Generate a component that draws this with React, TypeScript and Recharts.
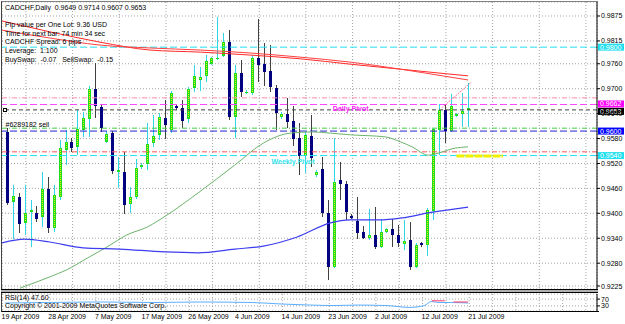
import React from 'react'
import {
  ComposedChart,
  Bar,
  Line,
  XAxis,
  YAxis,
  CartesianGrid,
  ReferenceLine,
  ReferenceDot,
} from 'recharts'

// CADCHF daily bars, 80 sessions (last one still open)
const OPEN = [
  0.9596, 0.9428, 0.9439, 0.9377, 0.9403, 0.9401, 0.9391, 0.9459, 0.9365, 0.9439,
  0.9552, 0.9572, 0.956, 0.96, 0.9627, 0.9699, 0.9656, 0.9572, 0.9593, 0.9499,
  0.9499, 0.9422, 0.9439, 0.9511, 0.9519, 0.9569, 0.9589, 0.9629, 0.96, 0.9658,
  0.9654, 0.9627, 0.9702, 0.9721, 0.9731, 0.9759, 0.9772, 0.9779, 0.9812, 0.9632,
  0.9738, 0.969, 0.969, 0.9774, 0.9759, 0.9743, 0.9702, 0.9632, 0.9639, 0.9622,
  0.9581, 0.9538, 0.9586, 0.9492, 0.9507, 0.9401, 0.9271, 0.948, 0.9471, 0.9394,
  0.9381, 0.9355, 0.9341, 0.9348, 0.9319, 0.9355, 0.9362, 0.9348, 0.9326, 0.9336,
  0.9271, 0.9329, 0.9324, 0.9406, 0.96, 0.9649, 0.9598, 0.9634, 0.9639, 0.9649,
]
const HIGH = [
  0.9605, 0.9468, 0.9449, 0.9468, 0.9432, 0.9418, 0.95, 0.9487, 0.9468, 0.9576,
  0.96, 0.9581, 0.9649, 0.9644, 0.9706, 0.9762, 0.9663, 0.9598, 0.9598, 0.9535,
  0.9548, 0.9463, 0.9531, 0.9521, 0.9617, 0.9637, 0.9642, 0.9673, 0.9695, 0.9661,
  0.9673, 0.9704, 0.9757, 0.9752, 0.9781, 0.9776, 0.9873, 0.9834, 0.9841, 0.9757,
  0.9769, 0.9697, 0.9781, 0.9868, 0.981, 0.9805, 0.9709, 0.9644, 0.9678, 0.9658,
  0.9617, 0.9596, 0.9637, 0.9504, 0.9535, 0.9432, 0.9581, 0.9524, 0.9478, 0.9398,
  0.9439, 0.9369, 0.941, 0.9415, 0.9386, 0.9365, 0.9386, 0.9372, 0.9384, 0.9379,
  0.9329, 0.9331, 0.9413, 0.9605, 0.9663, 0.9661, 0.9687, 0.9642, 0.969, 0.9714,
]
const LOW = [
  0.942, 0.9338, 0.9353, 0.9348, 0.9319, 0.9379, 0.9367, 0.9353, 0.9355, 0.9432,
  0.9516, 0.9548, 0.954, 0.9584, 0.9584, 0.9629, 0.9596, 0.9569, 0.9495, 0.9461,
  0.9398, 0.9401, 0.9434, 0.9507, 0.9504, 0.956, 0.9576, 0.9579, 0.9593, 0.9649,
  0.9605, 0.9617, 0.9692, 0.9694, 0.9716, 0.9757, 0.9769, 0.9776, 0.9625, 0.9581,
  0.968, 0.9687, 0.9685, 0.9716, 0.9706, 0.9692, 0.96, 0.9627, 0.9605, 0.9562,
  0.9492, 0.9497, 0.9512, 0.9487, 0.9391, 0.9239, 0.9268, 0.9432, 0.9384, 0.9386,
  0.9338, 0.9338, 0.9336, 0.9314, 0.9317, 0.9353, 0.9319, 0.9319, 0.9312, 0.9264,
  0.9268, 0.9319, 0.9297, 0.9384, 0.954, 0.9569, 0.9596, 0.9632, 0.9608, 0.9607,
]
const CLOSE = [
  0.9425, 0.9442, 0.9375, 0.9401, 0.9408, 0.9386, 0.9459, 0.9365, 0.9444, 0.9557,
  0.9572, 0.9557, 0.9603, 0.9629, 0.9699, 0.9658, 0.9605, 0.9591, 0.9502, 0.9504,
  0.942, 0.9439, 0.9509, 0.9516, 0.9567, 0.9586, 0.9632, 0.9613, 0.969, 0.9654,
  0.9622, 0.9699, 0.9731, 0.9728, 0.9767, 0.9774, 0.9774, 0.9812, 0.9632, 0.9738,
  0.9692, 0.9692, 0.9774, 0.9757, 0.974, 0.9704, 0.9642, 0.9639, 0.962, 0.9579,
  0.9538, 0.9589, 0.9533, 0.9499, 0.9401, 0.9271, 0.9475, 0.9471, 0.9403, 0.9389,
  0.9353, 0.9341, 0.9348, 0.9319, 0.9355, 0.9362, 0.9348, 0.9329, 0.9333, 0.9271,
  0.9324, 0.9324, 0.9408, 0.9603, 0.9649, 0.9598, 0.9658, 0.9639, 0.9646, 0.9653,
]

// moving averages, read as [bar index, price]
const MA_RED_A = [
  [-0.9, 0.9863], [7.3, 0.9837], [15.9, 0.9812], [24.5, 0.9793], [33.1, 0.9788], [41.6, 0.9781],
  [50.2, 0.9772], [58.8, 0.9759], [67.4, 0.9747], [75.9, 0.9735], [79, 0.9731],
]
const MA_RED_B = [
  [-0.9, 0.9841], [7.3, 0.9822], [15.9, 0.9805], [24.5, 0.9798], [33.1, 0.9793], [41.6, 0.9786],
  [50.2, 0.9776], [58.8, 0.9764], [67.4, 0.9747], [75.9, 0.9728], [79, 0.9721],
]
const MA_GREEN = [
  [2.2, 0.922], [7.3, 0.9247], [10.2, 0.9264], [13.7, 0.9292], [17.1, 0.9319], [20.5, 0.9348],
  [24, 0.9367], [27.4, 0.9396], [32.7, 0.9449], [39, 0.9516], [43.9, 0.9569], [48.5, 0.9593],
  [52.4, 0.9596], [55.4, 0.9593], [58.8, 0.9589], [64.8, 0.9584], [67.4, 0.9572], [69.4, 0.956],
  [72.2, 0.954], [73.9, 0.9545], [76.8, 0.9557], [79, 0.956],
]
const MA_BLUE = [
  [-0.9, 0.9329], [3, 0.9338], [7.3, 0.9331], [13, 0.9317], [19.3, 0.9314], [27, 0.9307],
  [32.7, 0.9305], [39, 0.9314], [43.9, 0.9321], [49.7, 0.9343], [55.4, 0.9377], [58.8, 0.9384],
  [63.6, 0.9384], [67.7, 0.9389], [72.2, 0.9401], [79, 0.9415],
]

// oscillator in the lower window
const RSI_LINE = [
  [-0.4, 47], [7, 50], [16, 53], [25, 50], [33, 53], [42, 50], [47, 41], [52, 35], [56, 32],
  [60, 35], [65, 32], [69, 21], [71.5, 32], [72.7, 56], [74, 50], [76, 50], [79, 47],
]
const RSI_HOT = [
  [72.8, 60], [75, 60], [75.7, null], [76.5, 53], [79, 53],
]

// horizontal levels (price)
const LEVELS = [0.98, 0.9678, 0.9662, 0.9649, 0.9605, 0.9598, 0.9548, 0.9539]
const WEEKLY_MARK = [77, 85, 0.9538]
const TREND = [74.5, 0.9654, 79.6, 0.9716]

const PRICE_TICKS = [0.9875, 0.9815, 0.976, 0.97, 0.964, 0.958, 0.952, 0.946, 0.94, 0.934, 0.928, 0.9225]
const RSI_TICKS = [30, 70]
const GRID_IDX = Array.from({ length: 26 }, (_, k) => -0.8 + 4 * k)
const DATE_LABELS = [
  '19 Apr 2009', '28 Apr 2009', '7 May 2009', '17 May 2009', '26 May 2009', '4 Jun 2009',
  '14 Jun 2009', '23 Jun 2009', '2 Jul 2009', '12 Jul 2009', '21 Jul 2009',
]

const X_DOMAIN: [number, number] = [-0.9, 101.1]
const Y_DOMAIN: [number, number] = [0.92178, 0.99087]
const FONT = '"Liberation Sans", Arial, sans-serif'
const PRE = { whiteSpace: 'pre' as const }

const Candle = (props: any) => {
  const { x, y, width, height, payload } = props
  const { o, h, l, c } = payload
  const mid = Math.round(x + width / 2)
  const py = (p: number) => y + ((h - p) / (h - l)) * height
  const up = c >= o
  const top = Math.round(py(Math.max(o, c)))
  const bot = Math.max(Math.round(py(Math.min(o, c))), top + 1)
  return (
    <g>
      <line x1={mid + 0.5} x2={mid + 0.5} y1={Math.round(py(h))} y2={Math.round(py(l))}
        stroke={up ? '#2fd6e6' : '#404040'} strokeWidth={1} />
      {up ? (
        <g>
          <rect x={mid - 1} y={top} width={3} height={bot - top} fill="#1fdc1f" />
          {bot - top > 2 && (
            <line x1={mid + 0.5} x2={mid + 0.5} y1={top + 1} y2={bot - 1}
              stroke="#f4f400" strokeDasharray="1 1" />
          )}
        </g>
      ) : (
        <rect x={mid - 1} y={top} width={3} height={bot - top} fill="#000080" />
      )}
    </g>
  )
}

const PriceTick = (props: any) => {
  const { x, y, payload } = props
  return (
    <text x={x} y={y + 2.5} fontSize={7} fill="#000" fontFamily={FONT}>
      {payload.value.toFixed(4)}
    </text>
  )
}

const RsiTick = (props: any) => {
  const { x, y, payload } = props
  return (
    <text x={x} y={y + 2.5} fontSize={7} fill="#000" fontFamily={FONT}>
      {payload.value}
    </text>
  )
}

const DateTick = (props: any) => {
  const { x, y, payload } = props
  const k = Math.round((payload.value + 0.8) / 4)
  if (k % 2 !== 0) return null
  return (
    <text x={x - 1} y={y + 6} fontSize={7} fill="#000" fontFamily={FONT}>
      {DATE_LABELS[k / 2]}
    </text>
  )
}

const PriceTag = (props: any) => {
  const { viewBox, bg, txt, shift = 0 } = props
  const right = viewBox.x + viewBox.width
  return (
    <g>
      <rect x={right + 1} y={viewBox.y - 3.5 + shift} width={26} height={7} fill={bg} />
      <text x={right + 3} y={viewBox.y + 2.5 + shift} fontSize={7} fill="#fff" fontFamily={FONT}>
        {txt}
      </text>
    </g>
  )
}

const TextTag = (props: any) => {
  const { viewBox, txt, col, bold } = props
  return (
    <text x={viewBox.x} y={viewBox.y + 3} fontSize={7} fill={col} fontWeight={bold ? 'bold' : 'normal'}
      fontFamily={FONT}>
      {txt}
    </text>
  )
}

const OrderMark = (props: any) => {
  const { cx, cy } = props
  return <rect x={Math.round(cx) - 1.5} y={Math.round(cy) - 1.5} width={3} height={3} fill="#fff" stroke="#000" />
}

const toPts = (arr: (number | null)[][]) => arr.map(([i, v]) => ({ i, v }))

export default function App() {
  const bars = OPEN.map((o, i) => ({ i, o, h: HIGH[i], l: LOW[i], c: CLOSE[i] }))
  const last = CLOSE[CLOSE.length - 1]

  return (
    <div style={{ position: 'absolute', left: 0, top: 0, width: 625, height: 324, background: '#fff', overflow: 'hidden', fontFamily: FONT }}>
      <div style={{ position: 'absolute', left: 0, top: 0 }}>
        <ComposedChart width={625} height={291} data={bars} margin={{ top: 2, right: 0, bottom: 2, left: 2 }}>
          <CartesianGrid stroke="#a4a4a4" strokeDasharray="1 2" />
          <XAxis type="number" dataKey="i" domain={X_DOMAIN} ticks={GRID_IDX} hide allowDataOverflow />
          <YAxis orientation="right" type="number" domain={Y_DOMAIN} ticks={PRICE_TICKS} interval={0}
            width={28} allowDataOverflow stroke="#000" tickSize={3} tickMargin={1} tick={<PriceTick />} />

          <ReferenceLine y={LEVELS[0]} stroke="#22e0f0" strokeDasharray="7 3"
            label={<PriceTag bg="#22e0f0" txt={LEVELS[0].toFixed(4)} />} />
          <ReferenceLine y={LEVELS[1]} stroke="#ff8aa8" strokeDasharray="5 2 1 2" />
          <ReferenceLine y={LEVELS[2]} stroke="#ff44ff" strokeDasharray="7 3"
            label={<PriceTag bg="#ff00ff" txt={LEVELS[2].toFixed(4)} shift={-0.5} />} />
          <ReferenceLine y={LEVELS[3]} stroke="#404040" strokeDasharray="4 3"
            label={<PriceTag bg="#000" txt={last.toFixed(4)} shift={1.5} />} />
          <ReferenceLine y={LEVELS[4]} stroke="#44cc44" strokeDasharray="5 2 1 2" />
          <ReferenceLine y={LEVELS[5]} stroke="#2323cc" strokeDasharray="7 3"
            label={<PriceTag bg="#0000ff" txt="0.9600" />} />
          <ReferenceLine y={LEVELS[6]} stroke="#ff5555" strokeDasharray="5 2 1 2" />
          <ReferenceLine y={LEVELS[7]} stroke="#22e0f0" strokeDasharray="7 3"
            label={<PriceTag bg="#22e0f0" txt="0.9540" />} />
          <ReferenceLine segment={[{ x: WEEKLY_MARK[0], y: WEEKLY_MARK[2] }, { x: WEEKLY_MARK[1], y: WEEKLY_MARK[2] }]}
            stroke="#f0f000" strokeWidth={3} strokeDasharray="8 1" />
          <ReferenceLine segment={[{ x: TREND[0], y: TREND[1] }, { x: TREND[2], y: TREND[3] }]}
            stroke="#ff7a9a" strokeDasharray="2 1" />

          <Line data={toPts(MA_RED_A)} dataKey="v" type="monotone" stroke="#ff2a2a" strokeWidth={1} dot={false} isAnimationActive={false} />
          <Line data={toPts(MA_RED_B)} dataKey="v" type="monotone" stroke="#ff4040" strokeWidth={1} dot={false} isAnimationActive={false} />
          <Line data={toPts(MA_GREEN)} dataKey="v" type="monotone" stroke="#6cb46c" strokeWidth={1} dot={false} isAnimationActive={false} />
          <Line data={toPts(MA_BLUE)} dataKey="v" type="monotone" stroke="#3d3df0" strokeWidth={1.2} dot={false} isAnimationActive={false} />

          <Bar dataKey={(d: any) => [d.l, d.h]} barSize={4} shape={<Candle />} isAnimationActive={false} />

          <ReferenceDot x={-0.45} y={LEVELS[3]} r={2} shape={<OrderMark />} />
          <ReferenceDot x={55.9} y={0.96535} r={0.5} fill="none" stroke="none"
            label={<TextTag txt="Daily Pivot" col="#ff20ff" bold />} />
          <ReferenceDot x={45.4} y={0.95259} r={0.5} fill="none" stroke="none"
            label={<TextTag txt="Weekly Pivot" col="#33e6ee" bold />} />
          <ReferenceDot x={-0.2} y={0.9615} r={0.5} fill="none" stroke="none"
            label={<TextTag txt="#6289182 sell" col="#000" />} />
        </ComposedChart>
      </div>

      <div style={{ position: 'absolute', left: 0, top: 291 }}>
        <ComposedChart width={625} height={33} margin={{ top: 3, right: 0, bottom: 0, left: 2 }}>
          <CartesianGrid stroke="#a4a4a4" strokeDasharray="1 2" />
          <XAxis type="number" dataKey="i" domain={X_DOMAIN} ticks={GRID_IDX} interval={0} allowDataOverflow
            height={13} axisLine={false} tickLine={false} tickSize={0} tick={<DateTick />} />
          <YAxis orientation="right" type="number" domain={[0, 100]} ticks={RSI_TICKS} interval={0}
            width={28} allowDataOverflow stroke="#000" tickSize={3} tickMargin={1} tick={<RsiTick />} />
          <Line data={toPts(RSI_LINE)} dataKey="v" type="monotone" stroke="#5aaeff" strokeWidth={1} dot={false} isAnimationActive={false} />
          <Line data={toPts(RSI_HOT)} dataKey="v" type="linear" stroke="#ff3a6a" strokeWidth={1} dot={false} isAnimationActive={false} />
        </ComposedChart>
      </div>

      {/* window frames */}
      <div style={{ position: 'absolute', left: 1, top: 1, width: 596, height: 288, borderLeft: '1px solid #404040', borderTop: '1px solid #808080' }} />
      <div style={{ position: 'absolute', left: 1, top: 289, width: 597, height: 2, borderTop: '1px solid #000', borderBottom: '1px solid #000', background: '#b0b0b0' }} />
      <div style={{ position: 'absolute', left: 1, top: 293, width: 597, height: 18, borderLeft: '1px solid #404040', borderBottom: '1px solid #000' }} />

      <svg width={625} height={324} style={{ position: 'absolute', left: 0, top: 0, pointerEvents: 'none' }}>
        <g fontFamily={FONT} fontSize={7} fill="#000">
          <text x={5} y={9.5} xmlSpace="preserve" style={PRE}>CADCHF,Daily  0.9649 0.9714 0.9607 0.9653</text>
          <text x={5} y={26.5} xmlSpace="preserve" style={PRE}>Pip value per One Lot: 9.36 USD</text>
          <text x={5} y={35.5} xmlSpace="preserve" style={PRE}>Time for next bar: 74 min 34 sec</text>
          <text x={5} y={43.5} xmlSpace="preserve" style={PRE}>CADCHF Spread: 6 pips</text>
          <text x={5} y={52.5} xmlSpace="preserve" style={PRE}>Leverage:  1:100</text>
          <text x={5} y={61.5} xmlSpace="preserve" style={PRE}>BuySwap:  -0.07   SellSwap:  -0.15</text>
          <text x={5} y={300}>RSI(14) 47.60</text>
          <text x={5} y={308}>Copyright © 2001-2009 MetaQuotes Software Corp.</text>
        </g>
      </svg>
    </div>
  )
}
